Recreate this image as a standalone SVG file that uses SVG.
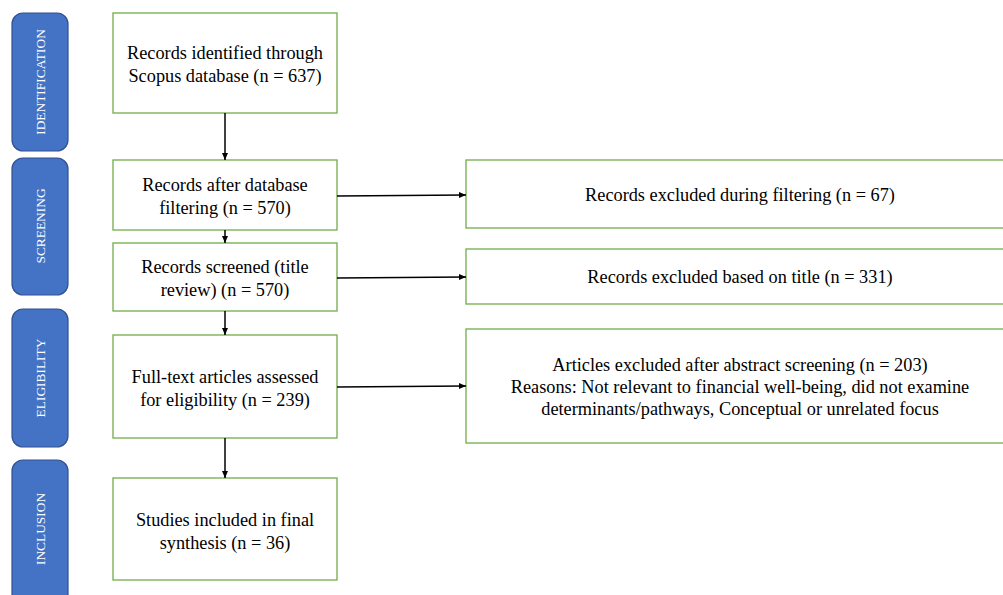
<svg xmlns="http://www.w3.org/2000/svg" width="1003" height="595" viewBox="0 0 1003 595">
<defs>
<marker id="ah" markerWidth="8" markerHeight="8" refX="7" refY="4" orient="auto" markerUnits="userSpaceOnUse">
<path d="M0,1 L7,4 L0,7 Z" fill="#000"/>
</marker>
<style>
.pill{fill:#4472C4;stroke:#2F528F;stroke-width:1.2}
.pt{fill:#fff;font-family:"Liberation Serif","Times New Roman",serif;font-size:13.4px;text-anchor:middle;dominant-baseline:central}
.box{fill:#fff;stroke:#70AD47;stroke-width:1.3}
.t{fill:#000;font-family:"Liberation Serif","Times New Roman",serif;font-size:18.3px;text-anchor:middle}
.c{stroke:#000;stroke-width:1.5;fill:none;marker-end:url(#ah)}
</style>
</defs>
<rect width="1003" height="595" fill="#fff"/>
<g id="stage-identification"><rect class="pill" x="12" y="13" width="56" height="138" rx="11"/><text class="pt" transform="translate(40,82) rotate(-90)">IDENTIFICATION</text></g>
<g id="stage-screening"><rect class="pill" x="12" y="158" width="56" height="137" rx="11"/><text class="pt" transform="translate(40,226) rotate(-90)">SCREENING</text></g>
<g id="stage-eligibility"><rect class="pill" x="12" y="309" width="56" height="138" rx="11"/><text class="pt" transform="translate(40,378) rotate(-90)">ELIGIBILITY</text></g>
<g id="stage-inclusion"><rect class="pill" x="12" y="460" width="56" height="150" rx="11"/><text class="pt" transform="translate(40,529) rotate(-90)">INCLUSION</text></g>

<g id="n1"><rect class="box" x="113" y="13" width="224" height="100"/><text class="t" x="225" y="59">Records identified through</text><text class="t" x="225" y="82">Scopus database (n = 637)</text></g>
<g id="n2"><rect class="box" x="113" y="160" width="224" height="70"/><text class="t" x="225" y="191">Records after database</text><text class="t" x="225" y="214">filtering (n = 570)</text></g>
<g id="n3"><rect class="box" x="113" y="243" width="224" height="68"/><text class="t" x="225" y="273">Records screened (title</text><text class="t" x="225" y="296">review) (n = 570)</text></g>
<g id="n4"><rect class="box" x="113" y="335" width="224" height="103"/><text class="t" x="225" y="383">Full-text articles assessed</text><text class="t" x="225" y="406">for eligibility (n = 239)</text></g>
<g id="n5"><rect class="box" x="113" y="478" width="224" height="102"/><text class="t" x="225" y="526">Studies included in final</text><text class="t" x="225" y="549">synthesis (n = 36)</text></g>

<g id="x1"><rect class="box" x="466" y="160" width="545" height="68"/><text class="t" x="740" y="201">Records excluded during filtering (n = 67)</text></g>
<g id="x2"><rect class="box" x="466" y="249" width="545" height="55"/><text class="t" x="740" y="283">Records excluded based on title (n = 331)</text></g>
<g id="x3"><rect class="box" x="466" y="329" width="545" height="114"/><text class="t" x="740" y="371">Articles excluded after abstract screening (n = 203)</text><text class="t" x="740" y="393">Reasons: Not relevant to financial well-being, did not examine</text><text class="t" x="740" y="415">determinants/pathways, Conceptual or unrelated focus</text></g>

<g id="connectors">
<line class="c" x1="225" y1="113" x2="225" y2="160"/>
<line class="c" x1="225" y1="230" x2="225" y2="243"/>
<line class="c" x1="225" y1="311" x2="225" y2="335"/>
<line class="c" x1="225" y1="438" x2="225" y2="478"/>
<line class="c" x1="337" y1="196" x2="466" y2="195"/>
<line class="c" x1="337" y1="278" x2="466" y2="277"/>
<line class="c" x1="337" y1="387" x2="466" y2="386"/>
</g>
</svg>
